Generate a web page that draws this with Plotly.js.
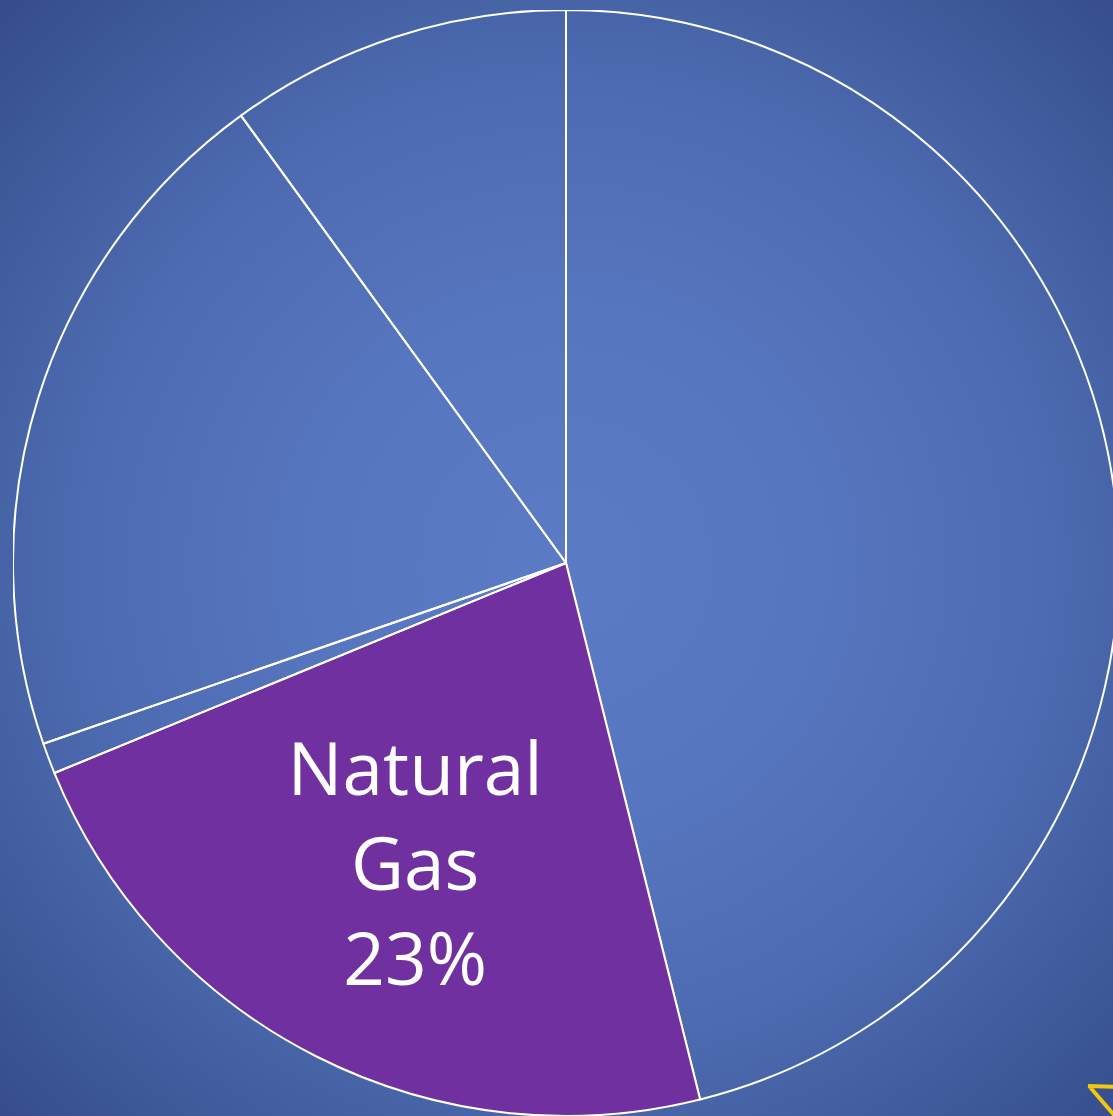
<!DOCTYPE html>
<html>
<head>
<meta charset="utf-8">
<script src="https://cdn.plot.ly/plotly-3.0.1.min.js"></script>
<style>
  html, body { margin:0; padding:0; width:1113px; height:1116px; overflow:hidden; }
  body {
    background: radial-gradient(circle 820px at 566px 563px, #5b7bc4 0px, #5676bf 250px, #4d6bb1 480px, #4663a6 570px, #3c5795 700px, #33498a 820px);
    position: relative;
  }
  #chart { position:absolute; left:13px; top:10px; width:1106px; height:1106px; }
  #deco { position:absolute; left:1080px; top:1078px; }
</style>
</head>
<body>
<div id="chart"></div>
<svg id="deco" width="40" height="40">
  <path d="M8,8 L40,9 M9,8 L35,38" stroke="#f2c80f" stroke-width="4" fill="none"/>
</svg>
<script>
const categories = ["Coal", "Natural Gas", "Petroleum", "Nuclear", "Renewables"];
const values = [46.1, 22.7, 0.9, 20.3, 10.0];
const labelTexts = ["", "Natural<br>Gas<br>23%", "", "", ""];
const sliceColors = ["rgba(0,0,0,0)", "#7030a0", "rgba(0,0,0,0)", "rgba(0,0,0,0)", "rgba(0,0,0,0)"];

const trace = {
  type: "pie",
  labels: categories,
  values: values,
  text: labelTexts,
  textinfo: "text",
  textposition: "inside",
  insidetextorientation: "horizontal",
  sort: false,
  direction: "clockwise",
  rotation: 0,
  hoverinfo: "label+percent",
  marker: { colors: sliceColors, line: { color: "#ffffff", width: 2 } },
  textfont: { family: "Open Sans, sans-serif", size: 73, color: "#ffffff" },
  domain: { x: [0, 1], y: [0, 1] },
  showlegend: false
};

Plotly.newPlot("chart", [trace], {
  width: 1106,
  height: 1106,
  margin: { l: 0, r: 0, t: 0, b: 0, pad: 0 },
  paper_bgcolor: "rgba(0,0,0,0)",
  plot_bgcolor: "rgba(0,0,0,0)",
  showlegend: false
}, { displayModeBar: false, staticPlot: true });
</script>
</body>
</html>
